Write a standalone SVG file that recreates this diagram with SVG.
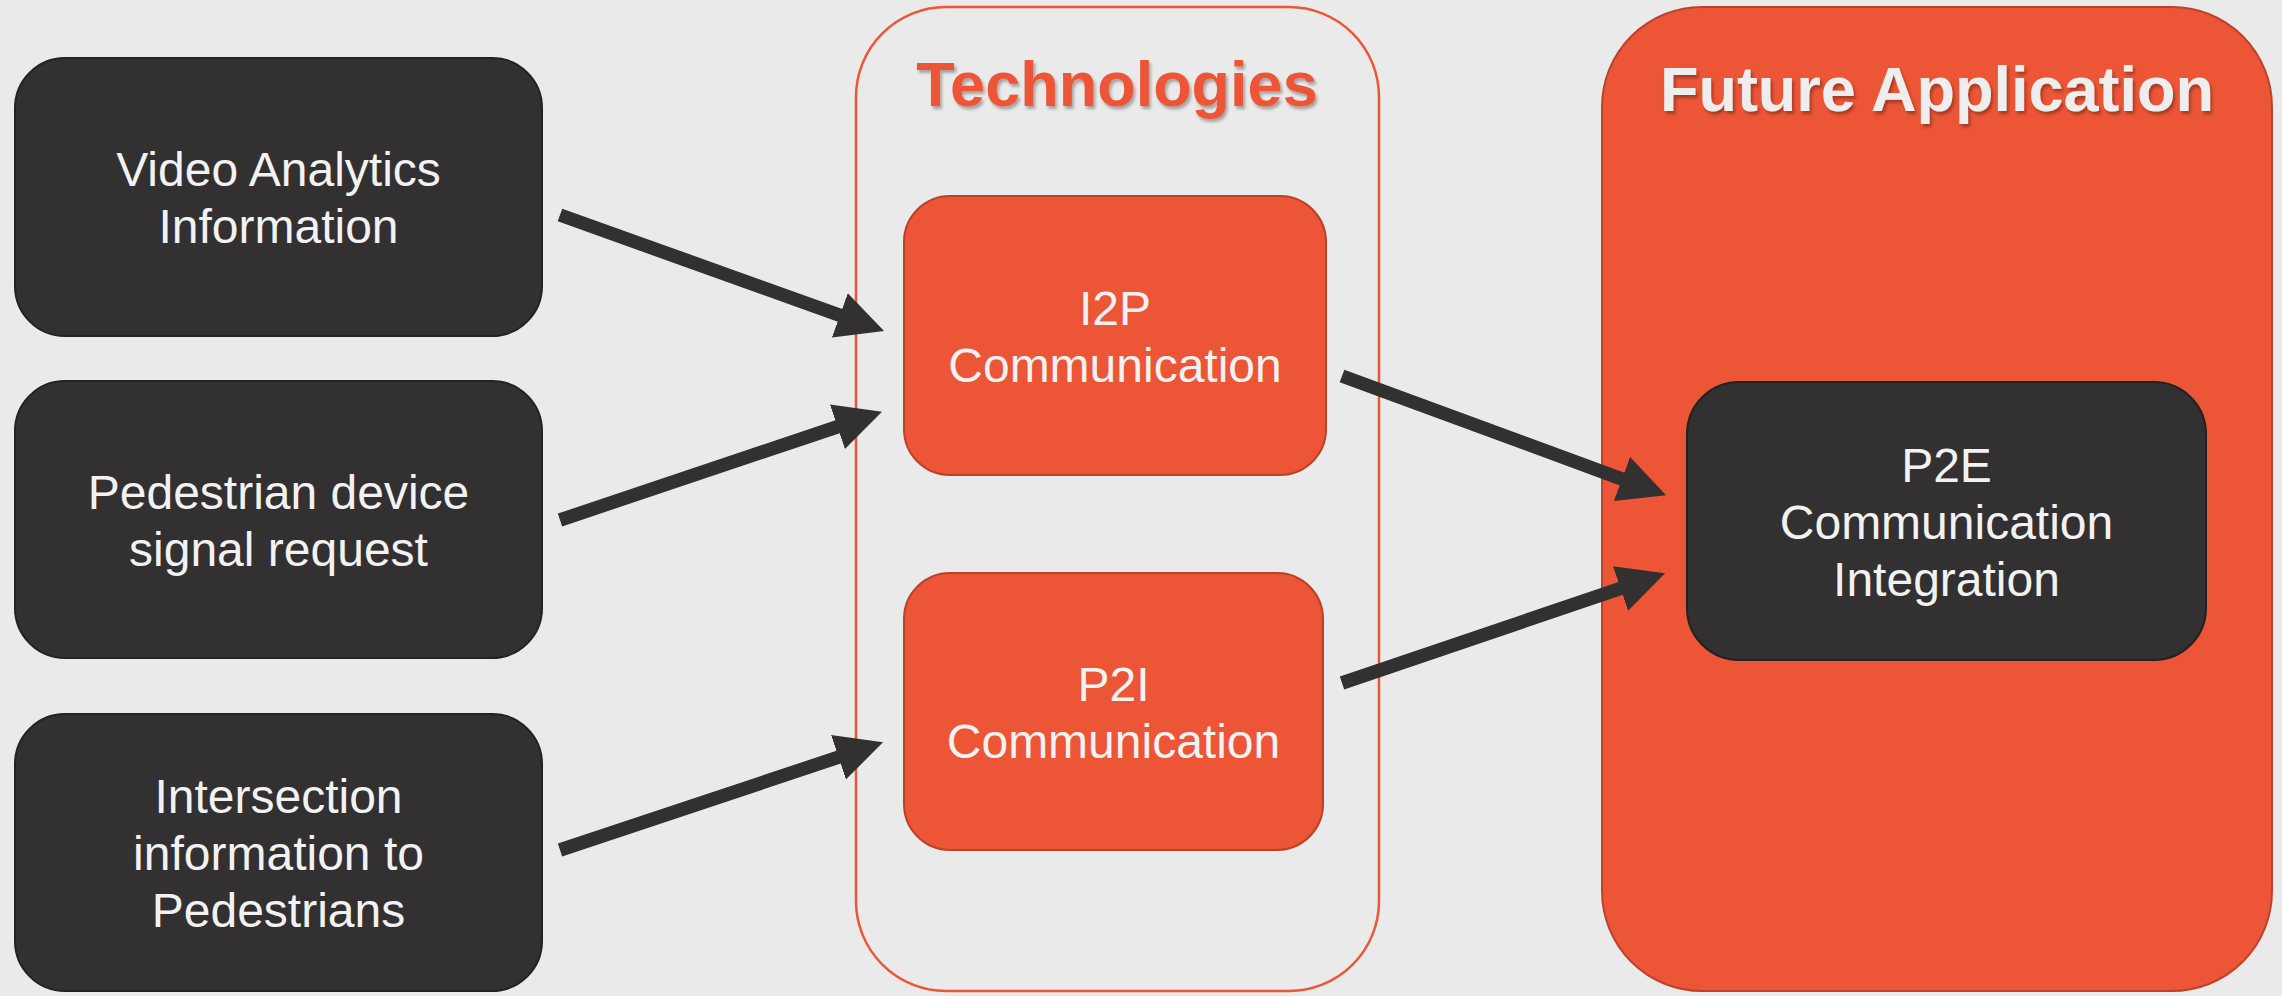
<svg xmlns="http://www.w3.org/2000/svg" width="2282" height="996" viewBox="0 0 2282 996">
  <defs>
    <style>
      .bg { fill: #EAEAEA; }
      .dark { fill: #323031; stroke: #232223; stroke-width: 2; }
      .orange { fill: #EC5535; stroke: #B9412A; stroke-width: 2; }
      .frame { fill: #EAEAEA; stroke: #EC5535; stroke-width: 2.5; }
      .panel { fill: #EC5535; stroke: #BC432B; stroke-width: 2; }
      .label { font-family: "Liberation Sans", Arial, sans-serif; font-size: 48px; fill: #F2F2F2; text-anchor: middle; }
      .title { font-family: "Liberation Sans", Arial, sans-serif; font-size: 63px; font-weight: bold; text-anchor: middle; }
      .link { stroke: #323031; stroke-width: 13.5; fill: none; stroke-linecap: butt; }
    </style>
    <filter id="shadow" x="-10%" y="-30%" width="120%" height="160%">
      <feDropShadow dx="2" dy="3" stdDeviation="1.8" flood-color="#000" flood-opacity="0.3"/>
    </filter>
    <marker id="head" markerUnits="userSpaceOnUse" markerWidth="48" markerHeight="48" refX="1" refY="23.5" orient="auto">
      <path d="M0,0 L47,23.5 L0,47 Z" fill="#323031"/>
    </marker>
  </defs>

  <rect class="bg" x="0" y="0" width="2282" height="996"/>

  <!-- containers -->
  <g id="technologies">
    <rect class="frame" x="856" y="7" width="523" height="984" rx="90" ry="90"/>
    <text class="title" x="1117" y="106" fill="#EC5535" filter="url(#shadow)">Technologies</text>
  </g>
  <g id="future-application">
    <rect class="panel" x="1602" y="7" width="670" height="984" rx="100" ry="100"/>
    <text class="title" x="1937" y="111" fill="#EEEEEE" filter="url(#shadow)">Future Application</text>
  </g>

  <!-- input nodes -->
  <g id="video-analytics">
    <rect class="dark" x="15" y="58" width="527" height="278" rx="50" ry="50"/>
    <text class="label" x="278.5" y="186">Video Analytics</text>
    <text class="label" x="278.5" y="243">Information</text>
  </g>
  <g id="pedestrian-device">
    <rect class="dark" x="15" y="381" width="527" height="277" rx="50" ry="50"/>
    <text class="label" x="278.5" y="508.5">Pedestrian device</text>
    <text class="label" x="278.5" y="565.5">signal request</text>
  </g>
  <g id="intersection-info">
    <rect class="dark" x="15" y="714" width="527" height="277" rx="50" ry="50"/>
    <text class="label" x="278.5" y="812.5">Intersection</text>
    <text class="label" x="278.5" y="870">information to</text>
    <text class="label" x="278.5" y="927">Pedestrians</text>
  </g>

  <!-- technology nodes -->
  <g id="i2p">
    <rect class="orange" x="904" y="196" width="422" height="279" rx="46" ry="46"/>
    <text class="label" x="1115" y="325">I2P</text>
    <text class="label" x="1115" y="382">Communication</text>
  </g>
  <g id="p2i">
    <rect class="orange" x="904" y="573" width="419" height="277" rx="46" ry="46"/>
    <text class="label" x="1113.5" y="701">P2I</text>
    <text class="label" x="1113.5" y="758">Communication</text>
  </g>

  <!-- application node -->
  <g id="p2e">
    <rect class="dark" x="1687" y="382" width="519" height="278" rx="52" ry="52"/>
    <text class="label" x="1946.5" y="482">P2E</text>
    <text class="label" x="1946.5" y="539">Communication</text>
    <text class="label" x="1946.5" y="596">Integration</text>
  </g>

  <!-- connectors -->
  <g id="connectors">
    <line class="link" x1="560" y1="215" x2="840.8" y2="315.6" marker-end="url(#head)"/>
    <line class="link" x1="560" y1="520" x2="838.4" y2="426.5" marker-end="url(#head)"/>
    <line class="link" x1="560" y1="850" x2="839.4" y2="756.9" marker-end="url(#head)"/>
    <line class="link" x1="1342" y1="376" x2="1622.9" y2="479.3" marker-end="url(#head)"/>
    <line class="link" x1="1342" y1="683" x2="1621.5" y2="588.1" marker-end="url(#head)"/>
  </g>
</svg>
